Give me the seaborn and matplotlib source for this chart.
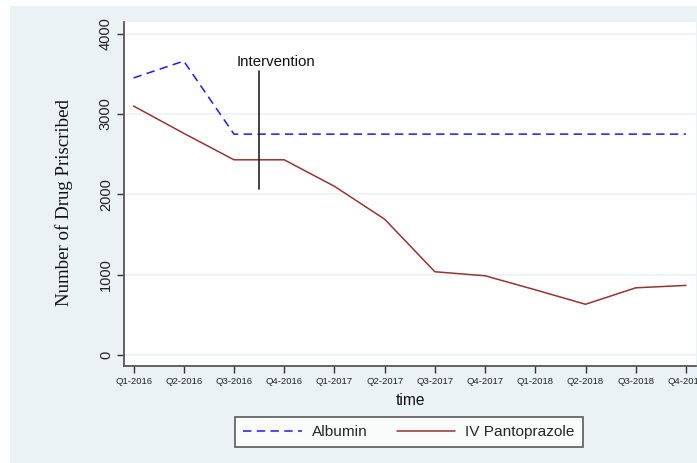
import matplotlib
matplotlib.use("Agg")
import matplotlib.pyplot as plt
from matplotlib.patches import Rectangle
import pandas as pd
import seaborn as sns

quarters = ["Q1-2016", "Q2-2016", "Q3-2016", "Q4-2016",
            "Q1-2017", "Q2-2017", "Q3-2017", "Q4-2017",
            "Q1-2018", "Q2-2018", "Q3-2018", "Q4-2018"]
albumin = [3450, 3660, 2750, 2750, 2750, 2750, 2750, 2750, 2750, 2750, 2750, 2750]
pantoprazole = [3100, 2760, 2430, 2430, 2100, 1690, 1035, 985, 810, 630, 835, 865]
y_ticks = [0, 1000, 2000, 3000, 4000]
intervention_x = 2.5
intervention_span = [2063, 3540]

df = pd.DataFrame({
    "t": list(range(len(quarters))) * 2,
    "count": albumin + pantoprazole,
    "drug": ["Albumin"] * len(quarters) + ["IV Pantoprazole"] * len(quarters),
})

sns.set_style("white")
plt.rcParams["font.family"] = ["Liberation Sans", "DejaVu Sans"]

bg = "#eaf2f3"
fig = plt.figure(figsize=(6.97, 4.63), dpi=100, facecolor="white")
fig.patches.append(Rectangle((10 / 697, -0.01), 1.01, 1.01 - 6 / 463, transform=fig.transFigure,
                             facecolor=bg, edgecolor="none", zorder=-10))
ax = fig.add_axes([124 / 697, 1 - 365.5 / 463, (696 - 124) / 697, (365.5 - 22) / 463])
ax.set_facecolor("white")

palette = {"Albumin": "#1a1aff", "IV Pantoprazole": "#993333"}
dashes = {"Albumin": (5.5, 3.5), "IV Pantoprazole": ""}
sns.lineplot(data=df, x="t", y="count", hue="drug", style="drug",
             palette=palette, dashes=dashes, linewidth=1.1, ax=ax,
             legend=False, zorder=3)

ax.plot([intervention_x, intervention_x], intervention_span, color="#222222", lw=1.2, zorder=4)
ax.text(2.84, 3650, "Intervention", ha="center", va="center", fontsize=10.8, color="#111111")

ax.set_xlim(-0.19, 11.2)
ax.set_ylim(-133, 4147)
ax.set_xticks(range(len(quarters)))
ax.set_xticklabels(quarters, fontsize=6.8, color="#222222")
ax.set_yticks(y_ticks)
ax.set_yticklabels([str(v) for v in y_ticks], fontsize=10.5, rotation=90, va="center", color="#222222")
ax.tick_params(axis="both", direction="out", length=5, width=1, color="#333333",
               left=True, bottom=True, pad=3)
ax.yaxis.grid(True, color=bg, lw=1.2)
ax.set_axisbelow(True)

for side in ["top", "right"]:
    ax.spines[side].set_visible(False)
for side in ["left", "bottom"]:
    ax.spines[side].set_color("#555555")
    ax.spines[side].set_linewidth(1.3)

ax.set_xlabel("time", fontsize=11.2, labelpad=5, color="#111111")
ax.set_ylabel("Number of Drug Priscribed", fontsize=13.6, family=["Liberation Serif"],
              color="#111111")
ax.yaxis.set_label_coords(-0.09, 0.473)

handles = [plt.Line2D([], [], color=palette["Albumin"], lw=1.1, dashes=(5.5, 3.5)),
           plt.Line2D([], [], color=palette["IV Pantoprazole"], lw=1.1)]
leg = fig.legend(handles, ["Albumin", "IV Pantoprazole"], ncol=2, loc="center",
                 bbox_to_anchor=((233 + 585) / 2 / 697, 1 - 432 / 463),
                 fontsize=11.1, frameon=True, fancybox=False, handlelength=3.8,
                 columnspacing=1.9, borderpad=0.5, borderaxespad=0, handletextpad=0.65)
leg.get_frame().set_edgecolor("#333333")
leg.get_frame().set_linewidth(1.2)

fig.savefig("out.png", dpi=100, facecolor=fig.get_facecolor())
